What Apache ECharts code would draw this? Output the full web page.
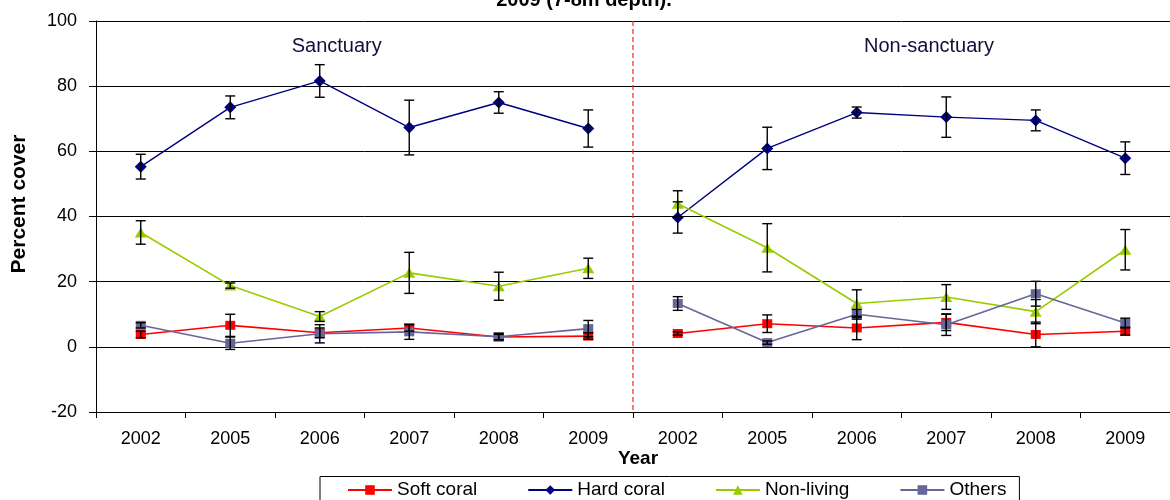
<!DOCTYPE html>
<html><head><meta charset="utf-8">
<script src="https://cdn.jsdelivr.net/npm/echarts@6/dist/echarts.min.js"></script>
<style>html,body{margin:0;padding:0;background:#fff}#c{width:1170px;height:500px}</style>
</head><body><div id="c"></div>
<script>
// ---- data ----
const years = ['2002','2005','2006','2007','2008','2009'];
const sites = ['Sanctuary','Non-sanctuary'];
const yTicks = [-20, 0, 20, 40, 60, 80, 100];
const seriesNames = ['Soft coral','Hard coral','Non-living','Others'];

const softS    = [3.8, 6.6, 4.3, 5.8, 3.0, 3.3];
const softSErr = [1.0, 3.4, 1.5, 1.0, 0.8, 1.0];
const softN    = [4.1, 7.1, 5.8, 7.5, 3.8, 4.8];
const softNErr = [0.5, 2.7, 3.6, 2.5, 3.8, 1.2];

const hardS    = [55.3, 73.5, 81.6, 67.3, 75.0, 67.0];
const hardSErr = [3.8, 3.5, 5.0, 8.4, 3.3, 5.7];
const hardN    = [39.7, 60.9, 71.9, 70.5, 69.5, 57.9];
const hardNErr = [4.8, 6.5, 1.7, 6.2, 3.2, 5.0];

const nonlS    = [35.1, 18.8, 9.3, 22.7, 18.6, 24.1];
const nonlSErr = [3.6, 0.8, 1.5, 6.3, 4.3, 3.1];
const nonlN    = [43.9, 30.4, 13.3, 15.3, 10.8, 29.8];
const nonlNErr = [4.0, 7.4, 4.2, 3.8, 3.7, 6.2];

const othS     = [6.6, 1.1, 4.0, 4.6, 3.1, 5.6];
const othSErr  = [0.8, 1.9, 2.8, 2.3, 1.0, 2.5];
const othN     = [13.3, 1.3, 10.0, 6.8, 16.3, 7.3];
const othNErr  = [2.1, 0.5, 1.5, 3.3, 3.8, 1.5];

// ---- build ----
const FONT = '"Liberation Sans", Arial, sans-serif';
const categories = sites.flatMap(s => years.map(y => s + '|' + y));
const n = years.length;
function pad(arr, site) {
  const out = categories.map(() => '-');
  arr.forEach((v, i) => { out[site * n + i] = v; });
  return out;
}
const defs = [
  { name: 'Soft coral', color: '#ff0000', symbol: 'rect', size: [10, 9], width: 1.6, data: [softS, softN], err: [softSErr, softNErr] },
  { name: 'Hard coral', color: '#000080', symbol: 'diamond', size: [12, 12], width: 1.4, data: [hardS, hardN], err: [hardSErr, hardNErr] },
  { name: 'Non-living', color: '#99cc00', symbol: 'triangle', size: [12, 10], width: 1.6, data: [nonlS, nonlN], err: [nonlSErr, nonlNErr] },
  { name: 'Others', color: '#666699', symbol: 'rect', size: [10, 9], width: 1.6, data: [othS, othN], err: [othSErr, othNErr] }
];

const series = [];
const errData = [];
defs.forEach(d => {
  [0, 1].forEach(site => {
    series.push({
      type: 'line', name: d.name, data: pad(d.data[site], site),
      symbol: d.symbol, symbolSize: d.size, showSymbol: true,
      lineStyle: { color: d.color, width: d.width },
      itemStyle: { color: d.color },
      z: 3, connectNulls: false
    });
    d.data[site].forEach((v, i) => {
      errData.push([site * n + i, v - d.err[site][i], v + d.err[site][i]]);
    });
  });
});

series.push({
  type: 'custom', name: 'err', z: 4, silent: true,
  data: errData,
  encode: { x: 0, y: [1, 2] },
  renderItem(params, api) {
    const x = api.value(0);
    const lo = api.coord([x, api.value(1)]);
    const hi = api.coord([x, api.value(2)]);
    const w = 5, st = { stroke: '#000', lineWidth: 1.4 };
    return { type: 'group', children: [
      { type: 'line', shape: { x1: lo[0], y1: lo[1], x2: hi[0], y2: hi[1] }, style: st },
      { type: 'line', shape: { x1: lo[0] - w, y1: lo[1], x2: lo[0] + w, y2: lo[1] }, style: st },
      { type: 'line', shape: { x1: hi[0] - w, y1: hi[1], x2: hi[0] + w, y2: hi[1] }, style: st }
    ]};
  }
});

series.push({
  type: 'custom', name: 'sep', z: 5, silent: true,
  data: [[0, 0]],
  renderItem(params, api) {
    const a = api.coord([n - 1, 0])[0], b = api.coord([n, 0])[0];
    const x = (a + b) / 2, cs = params.coordSys;
    return { type: 'line', shape: { x1: x, y1: cs.y, x2: x, y2: cs.y + cs.height },
      style: { stroke: '#ff2020', lineWidth: 1.2, lineDash: [5, 3] } };
  }
});

const chart = echarts.init(document.getElementById('c'), null, { renderer: 'canvas' });
chart.setOption({
  animation: false,
  backgroundColor: '#fff',
  textStyle: { fontFamily: FONT },
  grid: { left: 96, top: 21, width: 1079, height: 391, containLabel: false },
  legend: {
    data: seriesNames, left: 320, top: 476.5,
    itemWidth: 44, itemHeight: 12, itemGap: 50,
    padding: [4, 13, 30, 27],
    borderColor: '#000', borderWidth: 1,
    textStyle: { fontSize: 19, color: '#000', fontFamily: FONT }
  },
  xAxis: {
    type: 'category', data: categories, boundaryGap: true,
    axisLine: { onZero: false, lineStyle: { color: '#000', width: 1 } },
    axisTick: { show: true, length: 6, interval: 0, alignWithLabel: false, lineStyle: { color: '#000' } },
    axisLabel: { interval: 0, margin: 18, fontSize: 18, color: '#000', fontFamily: FONT,
      formatter: v => v.split('|')[1] },
    splitLine: { show: false }
  },
  yAxis: {
    type: 'value', min: yTicks[0], max: yTicks[yTicks.length - 1], interval: yTicks[1] - yTicks[0],
    axisLine: { show: true, lineStyle: { color: '#000', width: 1 } },
    axisTick: { show: true, length: 7, lineStyle: { color: '#000' } },
    axisLabel: { margin: 19, fontSize: 18, color: '#000', fontFamily: FONT },
    splitLine: { show: true, lineStyle: { color: '#000', width: 1 } }
  },
  graphic: [
    { type: 'text', x: 584, y: 0.8, silent: true, style: { text: '2009 (7-8m depth).', font: 'bold 20px ' + FONT, fill: '#000', align: 'center', verticalAlign: 'middle' } },
    { type: 'text', x: 336.7, y: 46.3, silent: true, style: { text: sites[0], font: '20px ' + FONT, fill: '#10103a', align: 'center', verticalAlign: 'middle' } },
    { type: 'text', x: 929, y: 46.3, silent: true, style: { text: sites[1], font: '20px ' + FONT, fill: '#10103a', align: 'center', verticalAlign: 'middle' } },
    { type: 'text', x: 638, y: 459, silent: true, style: { text: 'Year', font: 'bold 19px ' + FONT, fill: '#000', align: 'center', verticalAlign: 'middle' } },
    { type: 'text', x: 19.3, y: 204, rotation: Math.PI / 2, silent: true, style: { text: 'Percent cover', font: 'bold 21px ' + FONT, fill: '#000', align: 'center', verticalAlign: 'middle' } }
  ],
  series
});
</script>
</body></html>
